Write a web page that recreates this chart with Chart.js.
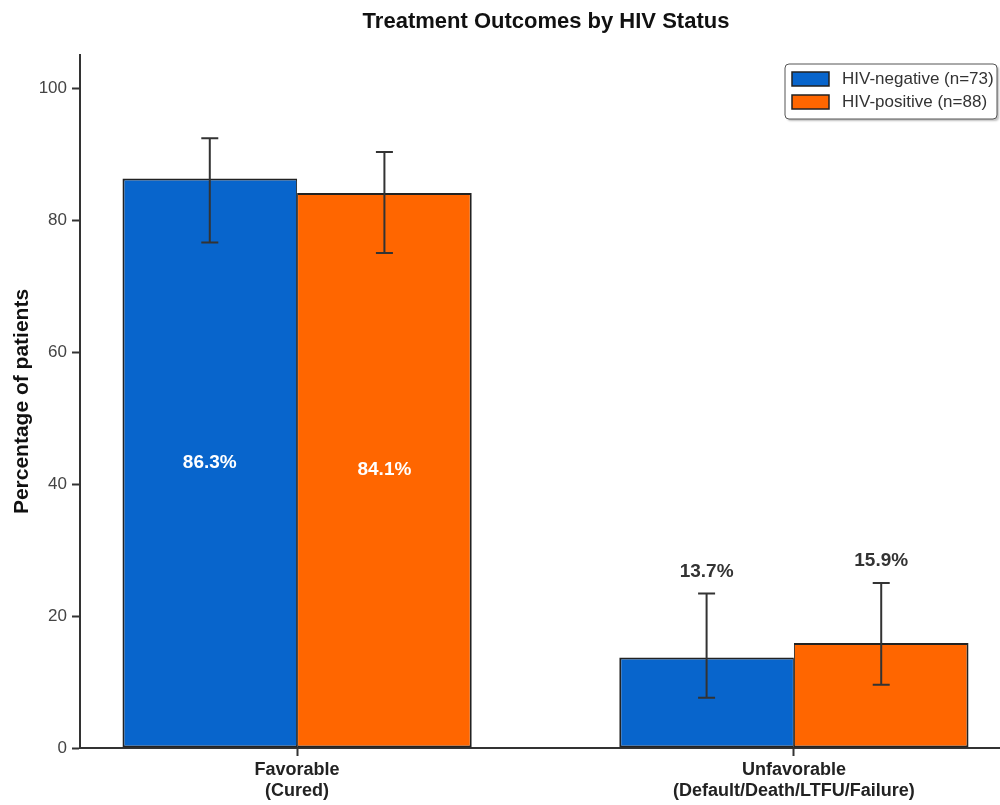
<!DOCTYPE html>
<html>
<head>
<meta charset="utf-8">
<script src="https://cdn.jsdelivr.net/npm/chart.js@4.4.1/dist/chart.umd.min.js"></script>
<style>
  html, body { margin: 0; padding: 0; background: #fff; overflow: hidden; }
  canvas { display: block; }
</style>
</head>
<body>
<canvas id="chart" width="1012" height="805"></canvas>
<script>
// Chart data
const categories = [['Favorable', '(Cured)'], ['Unfavorable', '(Default/Death/LTFU/Failure)']];
const seriesNames = ['HIV-negative (n=73)', 'HIV-positive (n=88)'];
const hivNegative = [86.3, 13.7];
const hivPositive = [84.1, 15.9];
const hivNegativeLow = [76.6, 7.6];
const hivNegativeHigh = [92.4, 23.4];
const hivPositiveLow = [75.0, 9.6];
const hivPositiveHigh = [90.3, 25.0];
const yTicks = [0, 20, 40, 60, 80, 100];

const colors = ['#0865CC', '#FF6600'];
const lows = [hivNegativeLow, hivPositiveLow];
const highs = [hivNegativeHigh, hivPositiveHigh];

const FONT = '"Liberation Sans", Arial, sans-serif';

// Error bars + value labels
const barExtras = {
    id: 'barExtras',
    afterDatasetsDraw(chart) {
        const ctx = chart.ctx;
        const y = chart.scales.y;
        chart.data.datasets.forEach((ds, di) => {
            const meta = chart.getDatasetMeta(di);
            meta.data.forEach((bar, i) => {
                const top = y.getPixelForValue(highs[di][i]);
                const bottom = y.getPixelForValue(lows[di][i]);
                ctx.save();
                ctx.strokeStyle = '#333';
                ctx.lineWidth = 2;
                ctx.beginPath();
                ctx.moveTo(bar.x, top);
                ctx.lineTo(bar.x, bottom);
                ctx.moveTo(bar.x - 8.5, top);
                ctx.lineTo(bar.x + 8.5, top);
                ctx.moveTo(bar.x - 8.5, bottom);
                ctx.lineTo(bar.x + 8.5, bottom);
                ctx.stroke();

                const v = ds.data[i].y;
                ctx.font = 'bold 19px ' + FONT;
                ctx.textAlign = 'center';
                ctx.textBaseline = 'middle';
                if (v > 50) {
                    ctx.fillStyle = '#fff';
                    ctx.fillText(v.toFixed(1) + '%', bar.x, (bar.y + bar.base) / 2);
                } else {
                    ctx.fillStyle = '#333';
                    ctx.fillText(v.toFixed(1) + '%', bar.x, top - 22);
                }
                ctx.restore();
            });
        });
    }
};

// Legend box inside the plot, top right
const boxLegend = {
    id: 'boxLegend',
    afterDraw(chart) {
        const ctx = chart.ctx;
        const x = 785, yTop = 64, w = 212, h = 55;
        ctx.save();
        ctx.shadowColor = 'rgba(0,0,0,0.25)';
        ctx.shadowOffsetX = 2;
        ctx.shadowOffsetY = 2;
        ctx.shadowBlur = 2;
        ctx.fillStyle = '#fff';
        ctx.beginPath();
        ctx.roundRect(x, yTop, w, h, 4);
        ctx.fill();
        ctx.shadowColor = 'transparent';
        ctx.strokeStyle = '#555';
        ctx.lineWidth = 1;
        ctx.stroke();

        ctx.font = '17px ' + FONT;
        ctx.textBaseline = 'middle';
        seriesNames.forEach((name, i) => {
            const cy = yTop + 15 + i * 23;
            ctx.fillStyle = colors[i];
            ctx.fillRect(x + 7, cy - 7, 37, 14);
            ctx.strokeStyle = '#222';
            ctx.lineWidth = 1.5;
            ctx.strokeRect(x + 7, cy - 7, 37, 14);
            ctx.fillStyle = '#333';
            ctx.fillText(name, x + 57, cy);
        });
        ctx.restore();
    }
};

new Chart(document.getElementById('chart'), {
    type: 'bar',
    data: {
        datasets: [hivNegative, hivPositive].map((vals, di) => ({
            label: seriesNames[di],
            data: vals.map((v, i) => ({ x: i, y: v })),
            backgroundColor: colors[di],
            borderColor: '#222',
            borderWidth: di === 0 ? { top: 2, left: 2, bottom: 2, right: 1 } : { top: 2, left: 1, bottom: 2, right: 2 },
            borderSkipped: false,
            categoryPercentage: 0.703,
            barPercentage: 1
        }))
    },
    options: {
        responsive: false,
        animation: false,
        layout: { padding: { left: 0, right: 0, top: 0, bottom: 0 } },
        plugins: {
            legend: { display: false },
            tooltip: { enabled: false },
            title: {
                display: true,
                text: 'Treatment Outcomes by HIV Status',
                fullSize: false,
                color: '#111',
                font: { family: FONT, size: 22, weight: 'bold' },
                padding: { top: 9, bottom: 19.6 }
            }
        },
        scales: {
            x: {
                type: 'linear',
                min: -0.437,
                max: 1.439,
                offset: false,
                afterBuildTicks: (scale) => { scale.ticks = categories.map((c, i) => ({ value: i })); },
                afterFit: (scale) => { scale.height = 57; },
                ticks: {
                    callback: (v) => categories[v],
                    color: '#222',
                    font: { family: FONT, size: 18, weight: 'bold' },
                    padding: 3,
                    maxRotation: 0,
                    autoSkip: false
                },
                grid: { drawOnChartArea: false, offset: false, tickLength: 8, color: '#333', tickWidth: 2 },
                border: { color: '#333', width: 2 }
            },
            y: {
                min: 0,
                max: 105,
                afterBuildTicks: (scale) => { scale.ticks = yTicks.map(v => ({ value: v })); },
                afterFit: (scale) => { scale.width = 80; },
                ticks: {
                    color: '#444',
                    font: { family: FONT, size: 17 },
                    padding: 5
                },
                grid: { drawOnChartArea: false, tickLength: 8, color: '#333', tickWidth: 2 },
                border: { color: '#333', width: 2 },
                title: {
                    display: true,
                    text: 'Percentage of patients',
                    color: '#111',
                    font: { family: FONT, size: 21, weight: 'bold' },
                    padding: { top: 10 }
                }
            }
        }
    },
    plugins: [barExtras, boxLegend]
});
</script>
</body>
</html>
